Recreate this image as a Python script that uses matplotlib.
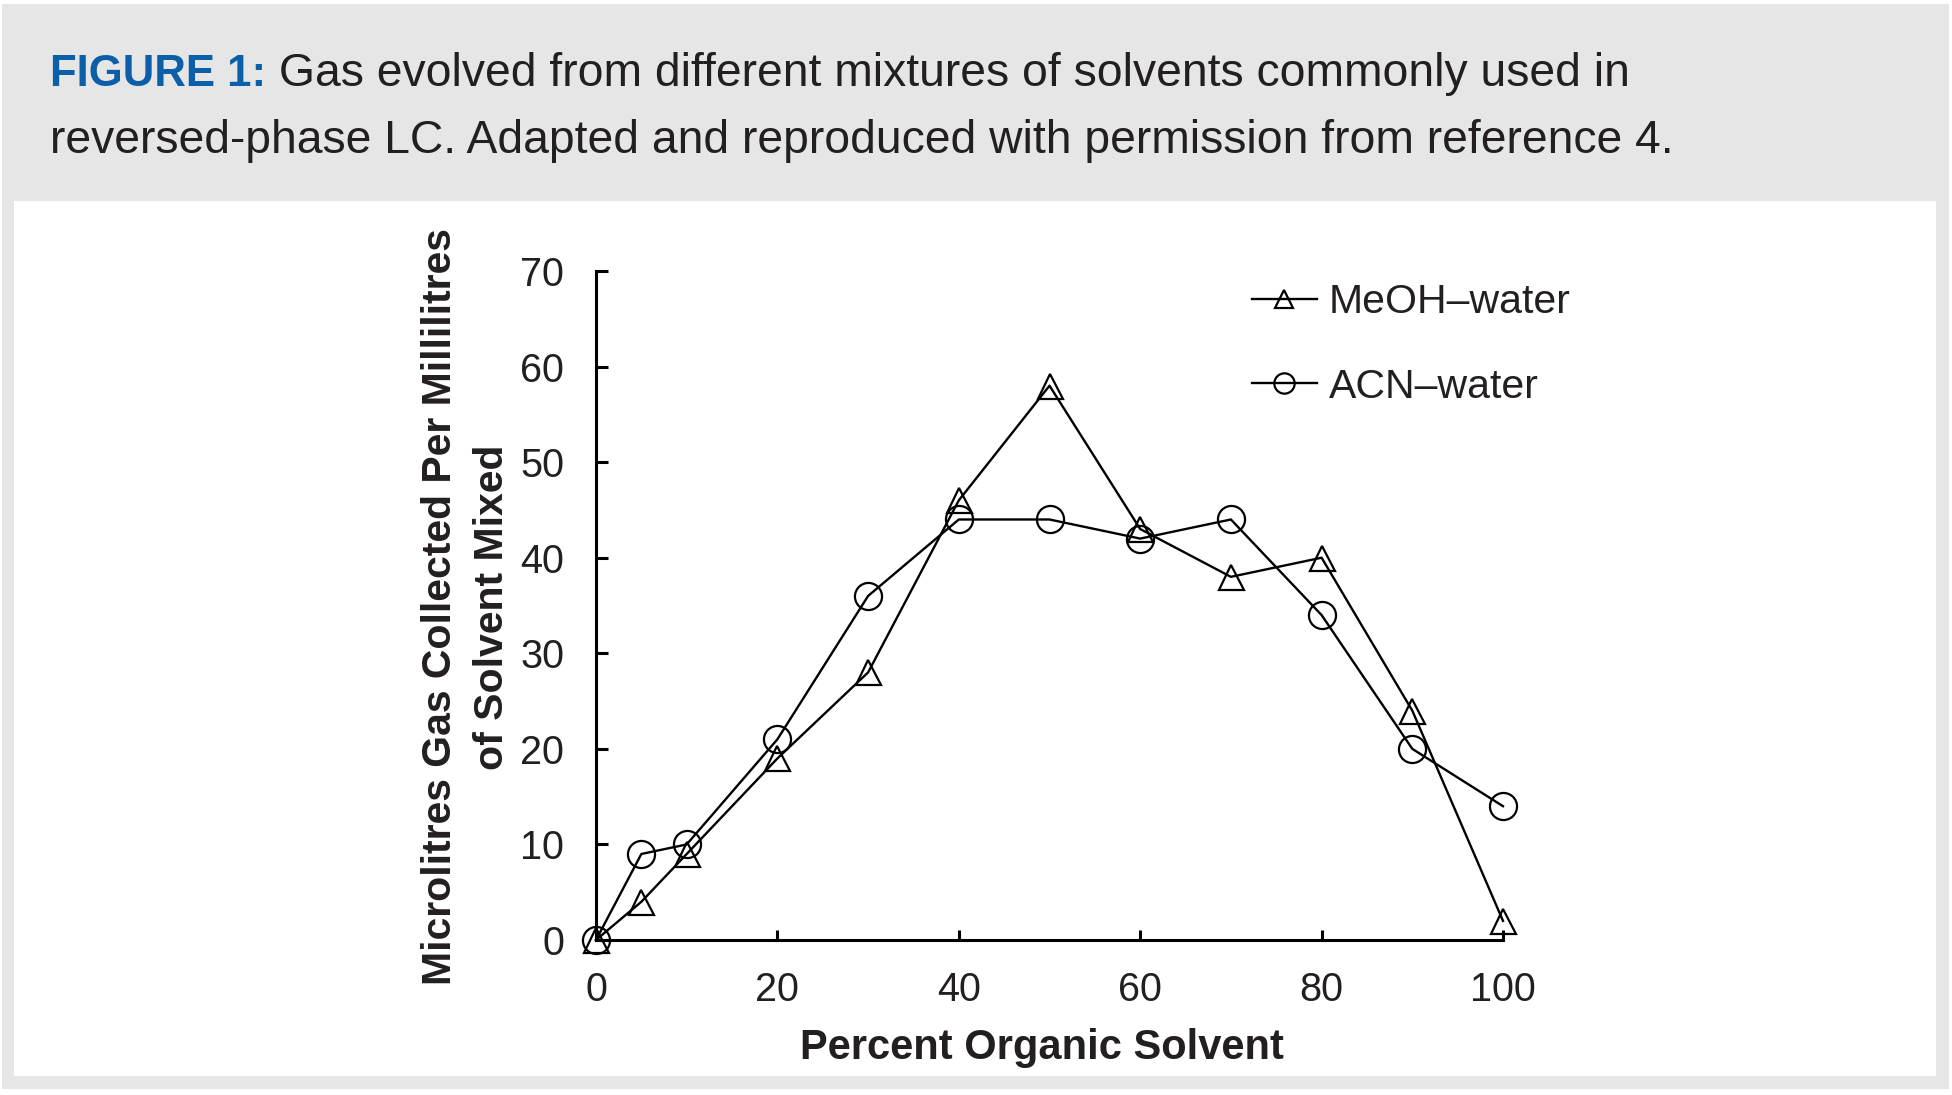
import matplotlib
matplotlib.use("Agg")
import matplotlib.pyplot as plt
from matplotlib.patches import Rectangle

plt.rcParams['font.family'] = ['Liberation Sans', 'DejaVu Sans']

# ---------------- data ----------------
percent_organic = [0, 5, 10, 20, 30, 40, 50, 60, 70, 80, 90, 100]
meoh_water = [0, 4, 9, 19, 28, 46, 58, 43, 38, 40, 24, 2]
acn_water = [0, 9, 10, 21, 36, 44, 44, 42, 44, 34, 20, 14]
series_labels = ["MeOH\u2013water", "ACN\u2013water"]
x_ticks = [0, 20, 40, 60, 80, 100]
y_ticks = [0, 10, 20, 30, 40, 50, 60, 70]

title_bold = "FIGURE 1:"
title_line1 = " Gas evolved from different mixtures of solvents commonly used in"
title_line2 = "reversed-phase LC. Adapted and reproduced with permission from reference 4."
x_label = "Percent Organic Solvent"
y_label_1 = "Microlitres Gas Collected Per Millilitres"
y_label_2 = "of Solvent Mixed"

# ---------------- layout helpers ----------------
W, H = 1952, 1095
fig = plt.figure(figsize=(W / 100, H / 100), dpi=100, facecolor="white")


def fx(px):
    return px / W


def fy(py):
    return 1 - py / H


TEXT = "#231f20"
BLUE = "#0b5fa8"
GRAY = "#e6e6e6"

# background bands
fig.patches.append(Rectangle((fx(2), fy(1089)), fx(1949) - fx(2), fy(4) - fy(1089),
                             transform=fig.transFigure, facecolor=GRAY, edgecolor="none", zorder=-10))
fig.patches.append(Rectangle((fx(14), fy(1076)), fx(1936) - fx(14), fy(201) - fy(1076),
                             transform=fig.transFigure, facecolor="white", edgecolor="none", zorder=-9))

# ---------------- title ----------------
t_bold = fig.text(fx(50), fy(86), title_bold, fontsize=31.5, fontweight="bold", color=BLUE,
                  ha="left", va="baseline")
renderer = fig.canvas.get_renderer()
bb = t_bold.get_window_extent(renderer=renderer)
fig.text(bb.x1 / W, fy(86), title_line1, fontsize=33.3, color=TEXT, ha="left", va="baseline")
fig.text(fx(50), fy(153), title_line2, fontsize=33.3, color=TEXT, ha="left", va="baseline")

# ---------------- axes ----------------
x0, x1 = 596, 1503
y0, y1 = 940, 271
ax = fig.add_axes([fx(x0), fy(y0), fx(x1) - fx(x0), fy(y1) - fy(y0)])
ax.set_facecolor("none")

lines = []
for vals, mk, ms, lab in [(meoh_water, "^", 18, series_labels[0]),
                          (acn_water, "o", 19.5, series_labels[1])]:
    ln, = ax.plot(percent_organic, vals, color="black", lw=1.7, marker=mk, ms=ms,
                  mfc="none", mec="black", mew=1.6, clip_on=False, label=lab, zorder=3)
    lines.append(ln)

ax.set_xlim(0, 100)
ax.set_ylim(0, 70)
ax.set_xticks(x_ticks)
ax.set_yticks(y_ticks)
for s in ["top", "right"]:
    ax.spines[s].set_visible(False)
for s in ["left", "bottom"]:
    ax.spines[s].set_linewidth(2.2)
    ax.spines[s].set_color("black")
ax.tick_params(axis="x", direction="in", length=7.5, width=2.2, labelsize=28.5,
               pad=22, labelcolor=TEXT)
ax.tick_params(axis="y", direction="in", length=8.5, width=2.2, labelsize=28.5,
               pad=23, labelcolor=TEXT)

leg = ax.legend(handles=lines, loc="upper left", bbox_to_anchor=(fx(1252), fy(283)),
                bbox_transform=fig.transFigure, frameon=False, borderpad=0, borderaxespad=0,
                handlelength=1.58, handletextpad=0.3, labelspacing=1.14, markerscale=0.75,
                fontsize=29.5)
for t in leg.get_texts():
    t.set_color(TEXT)

# ---------------- axis labels ----------------
fig.text(fx(1042), fy(1058.7), x_label, fontsize=30, fontweight="bold", color=TEXT,
         ha="center", va="baseline")
fig.text(fx(440), fy(607), y_label_1, fontsize=29.5, fontweight="bold", color=TEXT,
         ha="center", va="center", rotation=90)
fig.text(fx(492), fy(607), y_label_2, fontsize=29.5, fontweight="bold", color=TEXT,
         ha="center", va="center", rotation=90)

fig.savefig("out.png", dpi=100, facecolor="white")
